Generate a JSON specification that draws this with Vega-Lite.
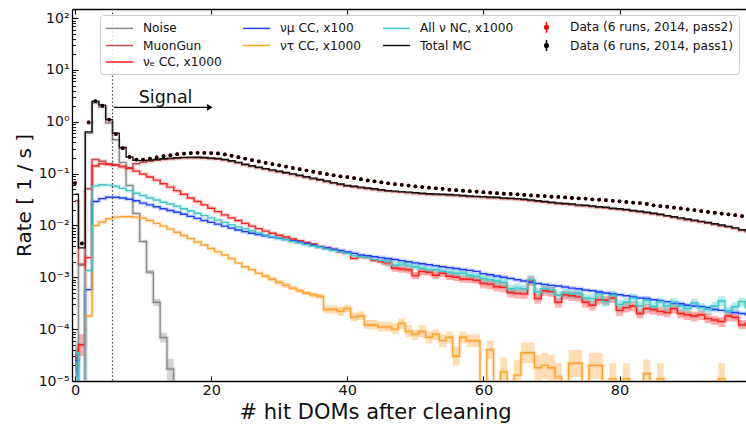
{
  "$schema": "https://vega.github.io/schema/vega-lite/v6.json",
  "width": 674,
  "height": 372,
  "autosize": {"type": "none"},
  "padding": {"left": 72, "top": 9, "right": 0, "bottom": 47},
  "background": "white",
  "config": {
    "view": {"stroke": null},
    "font": "DejaVu Sans",
    "axis": {
      "grid": false,
      "domainColor": "#000000",
      "domainWidth": 1.3,
      "tickColor": "#000000",
      "tickWidth": 1.1,
      "labelFont": "DejaVu Sans",
      "labelFontSize": 14,
      "labelColor": "#111111",
      "titleFont": "DejaVu Sans",
      "titleFontWeight": "normal",
      "titleColor": "#111111"
    }
  },
  "datasets": {
    "hist": [
      {"bin":0,"noise":2e-5,"muongun":0.03,"nue":2.8e-5,"numu":2.5e-5,"nutau":1e-7,"nc":3.5e-5,"total":0.04,"pass1":0.066,"pass2":0.066},
      {"bin":1,"noise":0.0017,"muongun":0.0018,"nue":5e-5,"numu":1e-7,"nutau":1e-7,"nc":1e-7,"total":0.0037,"pass1":0.0045,"pass2":0.0045},
      {"bin":2,"noise":0.6,"muongun":0.051,"nue":0.0024,"numu":0.00058,"nutau":0.00018,"nc":0.00135,"total":0.64,"pass1":0.97,"pass2":0.97},
      {"bin":3,"noise":2.3,"muongun":0.187,"nue":0.14,"numu":0.029,"nutau":0.01,"nc":0.058,"total":2.5,"pass1":2.5,"pass2":2.5},
      {"bin":4,"noise":1.9,"muongun":0.174,"nue":0.155,"numu":0.033,"nutau":0.0117,"nc":0.061,"total":2.1,"pass1":2.05,"pass2":2.05},
      {"bin":5,"noise":0.95,"muongun":0.155,"nue":0.15,"numu":0.035,"nutau":0.0135,"nc":0.06,"total":1.1,"pass1":1.1,"pass2":1.1},
      {"bin":6,"noise":0.45,"muongun":0.147,"nue":0.145,"numu":0.035,"nutau":0.0145,"nc":0.057,"total":0.6,"pass1":0.58,"pass2":0.58},
      {"bin":7,"noise":0.165,"muongun":0.135,"nue":0.138,"numu":0.034,"nutau":0.0147,"nc":0.052,"total":0.32,"pass1":0.31,"pass2":0.31},
      {"bin":8,"noise":0.059,"muongun":0.13,"nue":0.125,"numu":0.032,"nutau":0.0147,"nc":0.047,"total":0.21,"pass1":0.21,"pass2":0.21},
      {"bin":9,"noise":0.017,"muongun":0.155,"nue":0.112,"numu":0.03,"nutau":0.0145,"nc":0.042,"total":0.18,"pass1":0.187,"pass2":0.187},
      {"bin":10,"noise":0.0049,"muongun":0.165,"nue":0.098,"numu":0.027,"nutau":0.0138,"nc":0.038,"total":0.178,"pass1":0.187,"pass2":0.187},
      {"bin":11,"noise":0.00126,"muongun":0.174,"nue":0.086,"numu":0.025,"nutau":0.0125,"nc":0.034,"total":0.182,"pass1":0.195,"pass2":0.195},
      {"bin":12,"noise":0.00033,"muongun":0.18,"nue":0.075,"numu":0.023,"nutau":0.011,"nc":0.031,"total":0.188,"pass1":0.205,"pass2":0.205},
      {"bin":13,"noise":6.9e-5,"muongun":0.187,"nue":0.064,"numu":0.021,"nutau":0.0097,"nc":0.028,"total":0.194,"pass1":0.217,"pass2":0.217},
      {"bin":14,"noise":1.7e-5,"muongun":0.192,"nue":0.055,"numu":0.0195,"nutau":0.0085,"nc":0.026,"total":0.199,"pass1":0.227,"pass2":0.227},
      {"bin":15,"noise":1e-7,"muongun":0.196,"nue":0.047,"numu":0.018,"nutau":0.0074,"nc":0.0235,"total":0.203,"pass1":0.237,"pass2":0.237},
      {"bin":16,"muongun":0.199,"nue":0.04,"numu":0.0165,"nutau":0.0064,"nc":0.021,"total":0.206,"pass1":0.244,"pass2":0.244},
      {"bin":17,"muongun":0.201,"nue":0.034,"numu":0.015,"nutau":0.0056,"nc":0.019,"total":0.208,"pass1":0.249,"pass2":0.249},
      {"bin":18,"muongun":0.2,"nue":0.029,"numu":0.0137,"nutau":0.0048,"nc":0.0172,"total":0.207,"pass1":0.252,"pass2":0.252},
      {"bin":19,"muongun":0.198,"nue":0.025,"numu":0.0125,"nutau":0.0042,"nc":0.0155,"total":0.205,"pass1":0.252,"pass2":0.252},
      {"bin":20,"muongun":0.194,"nue":0.0215,"numu":0.0115,"nutau":0.0036,"nc":0.014,"total":0.201,"pass1":0.25,"pass2":0.25},
      {"bin":21,"muongun":0.189,"nue":0.0185,"numu":0.0106,"nutau":0.0031,"nc":0.0127,"total":0.196,"pass1":0.245,"pass2":0.245},
      {"bin":22,"muongun":0.182,"nue":0.016,"numu":0.0097,"nutau":0.0027,"nc":0.0115,"total":0.188,"pass1":0.235,"pass2":0.235},
      {"bin":23,"muongun":0.171,"nue":0.014,"numu":0.0089,"nutau":0.0023,"nc":0.0104,"total":0.177,"pass1":0.222,"pass2":0.222},
      {"bin":24,"muongun":0.16,"nue":0.0125,"numu":0.0082,"nutau":0.0019,"nc":0.0094,"total":0.165,"pass1":0.208,"pass2":0.208},
      {"bin":25,"muongun":0.147,"nue":0.011,"numu":0.0076,"nutau":0.0016,"nc":0.0086,"total":0.152,"pass1":0.195,"pass2":0.195},
      {"bin":26,"muongun":0.137,"nue":0.0097,"numu":0.0071,"nutau":0.0014,"nc":0.0079,"total":0.142,"pass1":0.183,"pass2":0.183},
      {"bin":27,"muongun":0.129,"nue":0.0087,"numu":0.0067,"nutau":0.0012,"nc":0.0072,"total":0.133,"pass1":0.172,"pass2":0.172},
      {"bin":28,"muongun":0.121,"nue":0.0078,"numu":0.0063,"nutau":0.00105,"nc":0.0066,"total":0.125,"pass1":0.162,"pass2":0.162},
      {"bin":29,"muongun":0.114,"nue":0.0071,"numu":0.006,"nutau":0.00092,"nc":0.0061,"total":0.118,"pass1":0.153,"pass2":0.153},
      {"bin":30,"muongun":0.107,"nue":0.0065,"numu":0.0057,"nutau":0.0008,"nc":0.0057,"total":0.111,"pass1":0.145,"pass2":0.145},
      {"bin":31,"muongun":0.101,"nue":0.006,"numu":0.0054,"nutau":0.0007,"nc":0.0053,"total":0.105,"pass1":0.137,"pass2":0.137},
      {"bin":32,"muongun":0.096,"nue":0.0055,"numu":0.0051,"nutau":0.00062,"nc":0.0049,"total":0.099,"pass1":0.129,"pass2":0.129},
      {"bin":33,"muongun":0.09,"nue":0.0051,"numu":0.0048,"nutau":0.00055,"nc":0.0046,"total":0.093,"pass1":0.122,"pass2":0.122},
      {"bin":34,"muongun":0.084,"nue":0.0047,"numu":0.0045,"nutau":0.0005,"nc":0.0043,"total":0.087,"pass1":0.115,"pass2":0.115},
      {"bin":35,"muongun":0.079,"nue":0.0044,"numu":0.0042,"nutau":0.00046,"nc":0.004,"total":0.082,"pass1":0.109,"pass2":0.109},
      {"bin":36,"muongun":0.074,"nue":0.0039,"numu":0.0039,"nutau":0.00043,"nc":0.0038,"total":0.077,"pass1":0.103,"pass2":0.103},
      {"bin":37,"muongun":0.07,"nue":0.0037,"numu":0.0037,"nutau":0.00024,"nc":0.0035,"total":0.072,"pass1":0.098,"pass2":0.098},
      {"bin":38,"muongun":0.065,"nue":0.0034,"numu":0.0035,"nutau":0.00024,"nc":0.0033,"total":0.067,"pass1":0.093,"pass2":0.093},
      {"bin":39,"muongun":0.061,"nue":0.0031,"numu":0.0033,"nutau":0.00022,"nc":0.0031,"total":0.063,"pass1":0.089,"pass2":0.089},
      {"bin":40,"muongun":0.057,"nue":0.0029,"numu":0.0031,"nutau":0.00025,"nc":0.0029,"total":0.059,"pass1":0.086,"pass2":0.086},
      {"bin":41,"muongun":0.055,"nue":0.0023,"numu":0.0029,"nutau":0.00017,"nc":0.0026,"total":0.057,"pass1":0.082,"pass2":0.082},
      {"bin":42,"muongun":0.053,"nue":0.0025,"numu":0.0027,"nutau":0.00018,"nc":0.0025,"total":0.055,"pass1":0.078,"pass2":0.078},
      {"bin":43,"muongun":0.051,"nue":0.0024,"numu":0.0026,"nutau":0.00012,"nc":0.0024,"total":0.053,"pass1":0.074,"pass2":0.074},
      {"bin":44,"muongun":0.049,"nue":0.0021,"numu":0.0025,"nutau":0.00012,"nc":0.0022,"total":0.051,"pass1":0.071,"pass2":0.071},
      {"bin":45,"muongun":0.047,"nue":0.002,"numu":0.0024,"nutau":0.00011,"nc":0.0021,"total":0.049,"pass1":0.068,"pass2":0.068},
      {"bin":46,"muongun":0.0455,"nue":0.0019,"numu":0.0023,"nutau":0.00011,"nc":0.002,"total":0.047,"pass1":0.065,"pass2":0.065},
      {"bin":47,"muongun":0.0445,"nue":0.0015,"numu":0.0022,"nutau":0.0001,"nc":0.0017,"total":0.046,"pass1":0.063,"pass2":0.063},
      {"bin":48,"muongun":0.0435,"nue":0.00145,"numu":0.0021,"nutau":0.00013,"nc":0.0018,"total":0.045,"pass1":0.061,"pass2":0.061},
      {"bin":49,"muongun":0.0425,"nue":0.0014,"numu":0.002,"nutau":0.00009,"nc":0.0017,"total":0.044,"pass1":0.059,"pass2":0.059},
      {"bin":50,"muongun":0.0415,"nue":0.00108,"numu":0.0019,"nutau":0.00008,"nc":0.0016,"total":0.043,"pass1":0.057,"pass2":0.057},
      {"bin":51,"muongun":0.0405,"nue":0.0013,"numu":0.00183,"nutau":0.00009,"nc":0.0015,"total":0.042,"pass1":0.055,"pass2":0.055},
      {"bin":52,"muongun":0.0395,"nue":0.00125,"numu":0.00175,"nutau":0.00007,"nc":0.0014,"total":0.041,"pass1":0.054,"pass2":0.054},
      {"bin":53,"muongun":0.039,"nue":0.0011,"numu":0.00168,"nutau":0.00008,"nc":0.0014,"total":0.0405,"pass1":0.052,"pass2":0.052},
      {"bin":54,"muongun":0.0385,"nue":0.0012,"numu":0.0016,"nutau":0.00006,"nc":0.0013,"total":0.04,"pass1":0.051,"pass2":0.051},
      {"bin":55,"muongun":0.038,"nue":0.00105,"numu":0.00154,"nutau":0.00007,"nc":0.00125,"total":0.0395,"pass1":0.049,"pass2":0.049},
      {"bin":56,"muongun":0.0375,"nue":0.001,"numu":0.00148,"nutau":0.00003,"nc":0.0012,"total":0.039,"pass1":0.048,"pass2":0.048},
      {"bin":57,"muongun":0.0365,"nue":0.00093,"numu":0.00142,"nutau":0.00007,"nc":0.0012,"total":0.038,"pass1":0.047,"pass2":0.047},
      {"bin":58,"muongun":0.0357,"nue":0.00092,"numu":0.00136,"nutau":0.00006,"nc":0.0011,"total":0.037,"pass1":0.046,"pass2":0.046},
      {"bin":59,"muongun":0.0352,"nue":0.00088,"numu":0.0013,"nutau":0.00006,"nc":0.00105,"total":0.0365,"pass1":0.045,"pass2":0.045},
      {"bin":60,"muongun":0.0347,"nue":0.00076,"numu":0.00118,"nutau":1e-7,"nc":0.00095,"total":0.036,"pass1":0.044,"pass2":0.044},
      {"bin":61,"muongun":0.034,"nue":0.00074,"numu":0.00112,"nutau":0.00004,"nc":0.0009,"total":0.0355,"pass1":0.043,"pass2":0.043},
      {"bin":62,"muongun":0.0337,"nue":0.00066,"numu":0.00106,"nutau":1e-7,"nc":0.00085,"total":0.035,"pass1":0.042,"pass2":0.042},
      {"bin":63,"muongun":0.0328,"nue":0.00064,"numu":0.001,"nutau":0.000015,"nc":0.0008,"total":0.034,"pass1":0.041,"pass2":0.041},
      {"bin":64,"muongun":0.0323,"nue":0.00051,"numu":0.00095,"nutau":1e-7,"nc":0.0006,"total":0.0335,"pass1":0.0405,"pass2":0.0405},
      {"bin":65,"muongun":0.0318,"nue":0.00049,"numu":0.0009,"nutau":0.000013,"nc":0.00062,"total":0.033,"pass1":0.04,"pass2":0.04},
      {"bin":66,"muongun":0.0309,"nue":0.00048,"numu":0.00085,"nutau":0.000035,"nc":0.0006,"total":0.032,"pass1":0.039,"pass2":0.039},
      {"bin":67,"muongun":0.0299,"nue":0.00086,"numu":0.0008,"nutau":0.000035,"nc":0.0009,"total":0.031,"pass1":0.038,"pass2":0.038},
      {"bin":68,"muongun":0.029,"nue":0.00039,"numu":0.00076,"nutau":0.000018,"nc":0.00052,"total":0.03,"pass1":0.0375,"pass2":0.0375},
      {"bin":69,"muongun":0.028,"nue":0.00055,"numu":0.00073,"nutau":0.00002,"nc":0.0006,"total":0.029,"pass1":0.037,"pass2":0.037},
      {"bin":70,"muongun":0.027,"nue":0.00053,"numu":0.0007,"nutau":0.000018,"nc":0.00058,"total":0.028,"pass1":0.036,"pass2":0.036},
      {"bin":71,"muongun":0.0262,"nue":0.00033,"numu":0.00068,"nutau":0.000012,"nc":0.00045,"total":0.0272,"pass1":0.0355,"pass2":0.0355},
      {"bin":72,"muongun":0.0256,"nue":0.00046,"numu":0.00065,"nutau":1e-7,"nc":0.0005,"total":0.0265,"pass1":0.035,"pass2":0.035},
      {"bin":73,"muongun":0.0251,"nue":0.00044,"numu":0.00062,"nutau":0.000022,"nc":0.00048,"total":0.026,"pass1":0.034,"pass2":0.034},
      {"bin":74,"muongun":0.0241,"nue":0.00042,"numu":0.0006,"nutau":0.000022,"nc":0.0005,"total":0.025,"pass1":0.0335,"pass2":0.0335},
      {"bin":75,"muongun":0.0236,"nue":0.00033,"numu":0.00057,"nutau":1e-7,"nc":0.0004,"total":0.0245,"pass1":0.033,"pass2":0.033},
      {"bin":76,"muongun":0.023,"nue":0.00029,"numu":0.00055,"nutau":0.00002,"nc":0.00039,"total":0.0238,"pass1":0.032,"pass2":0.032},
      {"bin":77,"muongun":0.0222,"nue":0.00037,"numu":0.00052,"nutau":0.00002,"nc":0.00048,"total":0.023,"pass1":0.0315,"pass2":0.0315},
      {"bin":78,"muongun":0.0217,"nue":0.00036,"numu":0.0005,"nutau":1e-7,"nc":0.00034,"total":0.0225,"pass1":0.031,"pass2":0.031},
      {"bin":79,"muongun":0.0207,"nue":0.0004,"numu":0.00048,"nutau":0.000011,"nc":0.00045,"total":0.0215,"pass1":0.03,"pass2":0.03},
      {"bin":80,"muongun":0.0203,"nue":0.00023,"numu":0.00046,"nutau":1e-7,"nc":0.0003,"total":0.021,"pass1":0.0293,"pass2":0.0293},
      {"bin":81,"muongun":0.0196,"nue":0.00026,"numu":0.00044,"nutau":0.000011,"nc":0.00033,"total":0.0203,"pass1":0.0285,"pass2":0.0285},
      {"bin":82,"muongun":0.0188,"nue":0.00028,"numu":0.00042,"nutau":1e-7,"nc":0.0004,"total":0.0195,"pass1":0.0277,"pass2":0.0277},
      {"bin":83,"muongun":0.0181,"nue":0.0002,"numu":0.0004,"nutau":1e-7,"nc":0.00028,"total":0.0188,"pass1":0.027,"pass2":0.027},
      {"bin":84,"muongun":0.0174,"nue":0.00025,"numu":0.00039,"nutau":0.000014,"nc":0.00036,"total":0.018,"pass1":0.026,"pass2":0.026},
      {"bin":85,"muongun":0.0166,"nue":0.00024,"numu":0.00037,"nutau":1e-7,"nc":0.00027,"total":0.0172,"pass1":0.0245,"pass2":0.0245},
      {"bin":86,"muongun":0.0159,"nue":0.00022,"numu":0.00035,"nutau":0.000011,"nc":0.00034,"total":0.0165,"pass1":0.0237,"pass2":0.0237},
      {"bin":87,"muongun":0.015,"nue":0.00021,"numu":0.00034,"nutau":1e-7,"nc":0.00028,"total":0.0155,"pass1":0.023,"pass2":0.023},
      {"bin":88,"muongun":0.0142,"nue":0.00025,"numu":0.00032,"nutau":1e-7,"nc":0.00033,"total":0.0147,"pass1":0.0222,"pass2":0.0222},
      {"bin":89,"muongun":0.0135,"nue":0.0002,"numu":0.00031,"nutau":1e-7,"nc":0.00028,"total":0.014,"pass1":0.0213,"pass2":0.0213},
      {"bin":90,"muongun":0.0128,"nue":0.00019,"numu":0.00029,"nutau":1e-7,"nc":0.00025,"total":0.0133,"pass1":0.0205,"pass2":0.0205},
      {"bin":91,"muongun":0.0122,"nue":0.00018,"numu":0.00028,"nutau":1e-7,"nc":0.00032,"total":0.0127,"pass1":0.0198,"pass2":0.0198},
      {"bin":92,"muongun":0.0116,"nue":0.00019,"numu":0.00027,"nutau":1e-7,"nc":0.00026,"total":0.012,"pass1":0.019,"pass2":0.019},
      {"bin":93,"muongun":0.011,"nue":0.00016,"numu":0.00026,"nutau":1e-7,"nc":0.00024,"total":0.0114,"pass1":0.0183,"pass2":0.0183},
      {"bin":94,"muongun":0.0104,"nue":0.00015,"numu":0.00024,"nutau":1e-7,"nc":0.00028,"total":0.0108,"pass1":0.0177,"pass2":0.0177},
      {"bin":95,"muongun":0.0098,"nue":0.00014,"numu":0.00023,"nutau":0.000011,"nc":0.00035,"total":0.0102,"pass1":0.017,"pass2":0.017},
      {"bin":96,"muongun":0.0093,"nue":0.00018,"numu":0.00022,"nutau":1e-7,"nc":0.00022,"total":0.0096,"pass1":0.0164,"pass2":0.0164},
      {"bin":97,"muongun":0.0087,"nue":0.00017,"numu":0.00021,"nutau":1e-7,"nc":0.00027,"total":0.009,"pass1":0.0158,"pass2":0.0158},
      {"bin":98,"muongun":0.008,"nue":0.00012,"numu":0.0002,"nutau":1e-7,"nc":0.00034,"total":0.0083,"pass1":0.0152,"pass2":0.0152},
      {"bin":99,"muongun":0.0076,"nue":0.00013,"numu":0.00019,"nutau":1e-7,"nc":0.00026,"total":0.0079,"pass1":0.0147,"pass2":0.0147}
    ],
    "bands": [
      {"bin":0,"series":"noise","seg":"a","lo":1e-5,"hi":4e-5},
      {"bin":1,"series":"noise","seg":"a","lo":0.0016,"hi":0.0018},
      {"bin":0,"series":"nue","seg":"a","lo":1.5e-5,"hi":4.5e-5},
      {"bin":1,"series":"nue","seg":"a","lo":3e-5,"hi":8e-5},
      {"bin":2,"series":"nue","seg":"a","lo":0.0023,"hi":0.0025},
      {"bin":0,"series":"numu","seg":"a","lo":1.2e-5,"hi":4e-5},
      {"bin":1,"series":"numu","seg":"a","lo":1e-7,"hi":1e-7},
      {"bin":0,"series":"nc","seg":"a","lo":1.5e-5,"hi":6e-5},
      {"bin":1,"series":"nc","seg":"a","lo":1e-7,"hi":1e-7},
      {"bin":10,"series":"noise","seg":"b","lo":0.0046,"hi":0.0052},
      {"bin":11,"series":"noise","seg":"b","lo":0.00115,"hi":0.0014},
      {"bin":12,"series":"noise","seg":"b","lo":0.00028,"hi":0.00038},
      {"bin":13,"series":"noise","seg":"b","lo":5.5e-5,"hi":8.5e-5},
      {"bin":14,"series":"noise","seg":"b","lo":1e-5,"hi":2.7e-5},
      {"bin":15,"series":"noise","seg":"b","lo":1e-7,"hi":1e-7},
      {"bin":45,"series":"nue","seg":"b","lo":0.0017,"hi":0.00234},
      {"bin":46,"series":"nue","seg":"b","lo":0.00162,"hi":0.00222},
      {"bin":47,"series":"nue","seg":"b","lo":0.00128,"hi":0.00176},
      {"bin":48,"series":"nue","seg":"b","lo":0.00123,"hi":0.0017},
      {"bin":49,"series":"nue","seg":"b","lo":0.00119,"hi":0.00164},
      {"bin":50,"series":"nue","seg":"b","lo":0.00092,"hi":0.00126},
      {"bin":51,"series":"nue","seg":"b","lo":0.0011,"hi":0.00152},
      {"bin":52,"series":"nue","seg":"b","lo":0.00106,"hi":0.00146},
      {"bin":53,"series":"nue","seg":"b","lo":0.00094,"hi":0.00129},
      {"bin":54,"series":"nue","seg":"b","lo":0.00102,"hi":0.0014},
      {"bin":55,"series":"nue","seg":"b","lo":0.00089,"hi":0.00123},
      {"bin":56,"series":"nue","seg":"b","lo":0.00085,"hi":0.00117},
      {"bin":57,"series":"nue","seg":"b","lo":0.00079,"hi":0.00109},
      {"bin":58,"series":"nue","seg":"b","lo":0.00078,"hi":0.00108},
      {"bin":59,"series":"nue","seg":"b","lo":0.00075,"hi":0.00103},
      {"bin":60,"series":"nue","seg":"b","lo":0.00061,"hi":0.00093},
      {"bin":61,"series":"nue","seg":"b","lo":0.00059,"hi":0.0009},
      {"bin":62,"series":"nue","seg":"b","lo":0.00053,"hi":0.00081},
      {"bin":63,"series":"nue","seg":"b","lo":0.00051,"hi":0.00078},
      {"bin":64,"series":"nue","seg":"b","lo":0.00041,"hi":0.00062},
      {"bin":65,"series":"nue","seg":"b","lo":0.00039,"hi":0.0006},
      {"bin":66,"series":"nue","seg":"b","lo":0.00038,"hi":0.00059},
      {"bin":67,"series":"nue","seg":"b","lo":0.00069,"hi":0.00105},
      {"bin":68,"series":"nue","seg":"b","lo":0.00031,"hi":0.00048},
      {"bin":69,"series":"nue","seg":"b","lo":0.00044,"hi":0.00067},
      {"bin":70,"series":"nue","seg":"b","lo":0.00042,"hi":0.00065},
      {"bin":71,"series":"nue","seg":"b","lo":0.00026,"hi":0.0004},
      {"bin":72,"series":"nue","seg":"b","lo":0.00037,"hi":0.00056},
      {"bin":73,"series":"nue","seg":"b","lo":0.00035,"hi":0.00054},
      {"bin":74,"series":"nue","seg":"b","lo":0.00034,"hi":0.00051},
      {"bin":75,"series":"nue","seg":"b","lo":0.00026,"hi":0.0004},
      {"bin":76,"series":"nue","seg":"b","lo":0.00023,"hi":0.00035},
      {"bin":77,"series":"nue","seg":"b","lo":0.0003,"hi":0.00045},
      {"bin":78,"series":"nue","seg":"b","lo":0.00029,"hi":0.00044},
      {"bin":79,"series":"nue","seg":"b","lo":0.00032,"hi":0.00049},
      {"bin":80,"series":"nue","seg":"b","lo":0.00018,"hi":0.00028},
      {"bin":81,"series":"nue","seg":"b","lo":0.00021,"hi":0.00032},
      {"bin":82,"series":"nue","seg":"b","lo":0.00022,"hi":0.00034},
      {"bin":83,"series":"nue","seg":"b","lo":0.00016,"hi":0.00024},
      {"bin":84,"series":"nue","seg":"b","lo":0.0002,"hi":0.00031},
      {"bin":85,"series":"nue","seg":"b","lo":0.00019,"hi":0.00029},
      {"bin":86,"series":"nue","seg":"b","lo":0.00018,"hi":0.00027},
      {"bin":87,"series":"nue","seg":"b","lo":0.00017,"hi":0.00026},
      {"bin":88,"series":"nue","seg":"b","lo":0.0002,"hi":0.00031},
      {"bin":89,"series":"nue","seg":"b","lo":0.00016,"hi":0.00024},
      {"bin":90,"series":"nue","seg":"b","lo":0.00015,"hi":0.00023},
      {"bin":91,"series":"nue","seg":"b","lo":0.00014,"hi":0.00022},
      {"bin":92,"series":"nue","seg":"b","lo":0.00015,"hi":0.00023},
      {"bin":93,"series":"nue","seg":"b","lo":0.00013,"hi":0.0002},
      {"bin":94,"series":"nue","seg":"b","lo":0.00012,"hi":0.00018},
      {"bin":95,"series":"nue","seg":"b","lo":0.00011,"hi":0.00017},
      {"bin":96,"series":"nue","seg":"b","lo":0.00014,"hi":0.00022},
      {"bin":97,"series":"nue","seg":"b","lo":0.00014,"hi":0.00021},
      {"bin":98,"series":"nue","seg":"b","lo":0.0001,"hi":0.00015},
      {"bin":99,"series":"nue","seg":"b","lo":0.0001,"hi":0.00016},
      {"bin":45,"series":"nc","seg":"b","lo":0.00179,"hi":0.00246},
      {"bin":46,"series":"nc","seg":"b","lo":0.0017,"hi":0.00234},
      {"bin":47,"series":"nc","seg":"b","lo":0.00145,"hi":0.00199},
      {"bin":48,"series":"nc","seg":"b","lo":0.00153,"hi":0.00211},
      {"bin":49,"series":"nc","seg":"b","lo":0.00145,"hi":0.00199},
      {"bin":50,"series":"nc","seg":"b","lo":0.00136,"hi":0.00187},
      {"bin":51,"series":"nc","seg":"b","lo":0.00128,"hi":0.00176},
      {"bin":52,"series":"nc","seg":"b","lo":0.00119,"hi":0.00164},
      {"bin":53,"series":"nc","seg":"b","lo":0.00119,"hi":0.00164},
      {"bin":54,"series":"nc","seg":"b","lo":0.0011,"hi":0.00152},
      {"bin":55,"series":"nc","seg":"b","lo":0.00106,"hi":0.00146},
      {"bin":56,"series":"nc","seg":"b","lo":0.00102,"hi":0.0014},
      {"bin":57,"series":"nc","seg":"b","lo":0.00102,"hi":0.0014},
      {"bin":58,"series":"nc","seg":"b","lo":0.00094,"hi":0.00129},
      {"bin":59,"series":"nc","seg":"b","lo":0.00089,"hi":0.00123},
      {"bin":60,"series":"nc","seg":"b","lo":0.00076,"hi":0.00116},
      {"bin":61,"series":"nc","seg":"b","lo":0.00072,"hi":0.0011},
      {"bin":62,"series":"nc","seg":"b","lo":0.00068,"hi":0.00104},
      {"bin":63,"series":"nc","seg":"b","lo":0.00064,"hi":0.00098},
      {"bin":64,"series":"nc","seg":"b","lo":0.00048,"hi":0.00073},
      {"bin":65,"series":"nc","seg":"b","lo":0.0005,"hi":0.00076},
      {"bin":66,"series":"nc","seg":"b","lo":0.00048,"hi":0.00073},
      {"bin":67,"series":"nc","seg":"b","lo":0.00072,"hi":0.0011},
      {"bin":68,"series":"nc","seg":"b","lo":0.00042,"hi":0.00063},
      {"bin":69,"series":"nc","seg":"b","lo":0.00048,"hi":0.00073},
      {"bin":70,"series":"nc","seg":"b","lo":0.00046,"hi":0.00071},
      {"bin":71,"series":"nc","seg":"b","lo":0.00036,"hi":0.00055},
      {"bin":72,"series":"nc","seg":"b","lo":0.0004,"hi":0.00061},
      {"bin":73,"series":"nc","seg":"b","lo":0.00038,"hi":0.00059},
      {"bin":74,"series":"nc","seg":"b","lo":0.0004,"hi":0.00061},
      {"bin":75,"series":"nc","seg":"b","lo":0.00032,"hi":0.00049},
      {"bin":76,"series":"nc","seg":"b","lo":0.00031,"hi":0.00048},
      {"bin":77,"series":"nc","seg":"b","lo":0.00038,"hi":0.00059},
      {"bin":78,"series":"nc","seg":"b","lo":0.00027,"hi":0.00041},
      {"bin":79,"series":"nc","seg":"b","lo":0.00036,"hi":0.00055},
      {"bin":80,"series":"nc","seg":"b","lo":0.00024,"hi":0.00037},
      {"bin":81,"series":"nc","seg":"b","lo":0.00026,"hi":0.0004},
      {"bin":82,"series":"nc","seg":"b","lo":0.00032,"hi":0.00049},
      {"bin":83,"series":"nc","seg":"b","lo":0.00022,"hi":0.00034},
      {"bin":84,"series":"nc","seg":"b","lo":0.00029,"hi":0.00044},
      {"bin":85,"series":"nc","seg":"b","lo":0.00022,"hi":0.00033},
      {"bin":86,"series":"nc","seg":"b","lo":0.00027,"hi":0.00041},
      {"bin":87,"series":"nc","seg":"b","lo":0.00022,"hi":0.00034},
      {"bin":88,"series":"nc","seg":"b","lo":0.00026,"hi":0.0004},
      {"bin":89,"series":"nc","seg":"b","lo":0.00022,"hi":0.00034},
      {"bin":90,"series":"nc","seg":"b","lo":0.0002,"hi":0.00031},
      {"bin":91,"series":"nc","seg":"b","lo":0.00026,"hi":0.00039},
      {"bin":92,"series":"nc","seg":"b","lo":0.00021,"hi":0.00032},
      {"bin":93,"series":"nc","seg":"b","lo":0.00019,"hi":0.00029},
      {"bin":94,"series":"nc","seg":"b","lo":0.00022,"hi":0.00034},
      {"bin":95,"series":"nc","seg":"b","lo":0.00028,"hi":0.00043},
      {"bin":96,"series":"nc","seg":"b","lo":0.00018,"hi":0.00027},
      {"bin":97,"series":"nc","seg":"b","lo":0.00022,"hi":0.00033},
      {"bin":98,"series":"nc","seg":"b","lo":0.00027,"hi":0.00041},
      {"bin":99,"series":"nc","seg":"b","lo":0.00021,"hi":0.00032},
      {"bin":28,"series":"nutau","seg":"b","lo":0.00095,"hi":0.00116},
      {"bin":29,"series":"nutau","seg":"b","lo":0.00083,"hi":0.00101},
      {"bin":30,"series":"nutau","seg":"b","lo":0.00072,"hi":0.00088},
      {"bin":31,"series":"nutau","seg":"b","lo":0.00063,"hi":0.00077},
      {"bin":32,"series":"nutau","seg":"b","lo":0.00056,"hi":0.00068},
      {"bin":33,"series":"nutau","seg":"b","lo":0.0005,"hi":0.00061},
      {"bin":34,"series":"nutau","seg":"b","lo":0.00045,"hi":0.00055},
      {"bin":35,"series":"nutau","seg":"b","lo":0.00041,"hi":0.00051},
      {"bin":36,"series":"nutau","seg":"b","lo":0.00038,"hi":0.00048},
      {"bin":37,"series":"nutau","seg":"b","lo":0.0002,"hi":0.00029},
      {"bin":38,"series":"nutau","seg":"b","lo":0.0002,"hi":0.00029},
      {"bin":39,"series":"nutau","seg":"b","lo":0.00018,"hi":0.00027},
      {"bin":40,"series":"nutau","seg":"b","lo":0.00021,"hi":0.0003},
      {"bin":41,"series":"nutau","seg":"b","lo":0.00014,"hi":0.00021},
      {"bin":42,"series":"nutau","seg":"b","lo":0.00015,"hi":0.00022},
      {"bin":43,"series":"nutau","seg":"b","lo":0.0001,"hi":0.00015},
      {"bin":44,"series":"nutau","seg":"b","lo":0.0001,"hi":0.00015},
      {"bin":45,"series":"nutau","seg":"b","lo":0.00009,"hi":0.00014},
      {"bin":46,"series":"nutau","seg":"b","lo":0.00009,"hi":0.00014},
      {"bin":47,"series":"nutau","seg":"b","lo":0.00008,"hi":0.00013},
      {"bin":48,"series":"nutau","seg":"b","lo":0.0001,"hi":0.00016},
      {"bin":49,"series":"nutau","seg":"b","lo":0.00007,"hi":0.00012},
      {"bin":50,"series":"nutau","seg":"b","lo":0.000062,"hi":0.0001},
      {"bin":51,"series":"nutau","seg":"b","lo":0.00007,"hi":0.00012},
      {"bin":52,"series":"nutau","seg":"b","lo":0.000053,"hi":0.00009},
      {"bin":53,"series":"nutau","seg":"b","lo":0.000062,"hi":0.0001},
      {"bin":54,"series":"nutau","seg":"b","lo":0.000045,"hi":0.00008},
      {"bin":55,"series":"nutau","seg":"b","lo":0.000053,"hi":0.00009},
      {"bin":56,"series":"nutau","seg":"b","lo":0.00002,"hi":0.000045},
      {"bin":57,"series":"nutau","seg":"b","lo":0.000053,"hi":0.00009},
      {"bin":58,"series":"nutau","seg":"b","lo":0.000045,"hi":0.00008},
      {"bin":59,"series":"nutau","seg":"b","lo":0.000045,"hi":0.00008},
      {"bin":60,"series":"nutau","seg":"b","lo":1e-7,"hi":1e-7},
      {"bin":61,"series":"nutau","seg":"b","lo":0.000027,"hi":0.00006},
      {"bin":62,"series":"nutau","seg":"b","lo":1e-7,"hi":1e-7},
      {"bin":63,"series":"nutau","seg":"b","lo":0.000008,"hi":0.000028},
      {"bin":64,"series":"nutau","seg":"b","lo":1e-7,"hi":1e-7},
      {"bin":65,"series":"nutau","seg":"b","lo":0.000007,"hi":0.000025},
      {"bin":66,"series":"nutau","seg":"b","lo":0.000022,"hi":0.000055},
      {"bin":67,"series":"nutau","seg":"b","lo":0.000022,"hi":0.000055},
      {"bin":68,"series":"nutau","seg":"b","lo":0.00001,"hi":0.000032},
      {"bin":69,"series":"nutau","seg":"b","lo":0.000011,"hi":0.000035},
      {"bin":70,"series":"nutau","seg":"b","lo":0.00001,"hi":0.000032},
      {"bin":71,"series":"nutau","seg":"b","lo":0.000006,"hi":0.000022},
      {"bin":72,"series":"nutau","seg":"b","lo":1e-7,"hi":1e-7},
      {"bin":73,"series":"nutau","seg":"b","lo":0.000012,"hi":0.00004},
      {"bin":74,"series":"nutau","seg":"b","lo":0.000012,"hi":0.00004},
      {"bin":75,"series":"nutau","seg":"b","lo":1e-7,"hi":1e-7},
      {"bin":76,"series":"nutau","seg":"b","lo":0.000011,"hi":0.000035},
      {"bin":77,"series":"nutau","seg":"b","lo":0.000011,"hi":0.000035},
      {"bin":78,"series":"nutau","seg":"b","lo":1e-7,"hi":1e-7},
      {"bin":79,"series":"nutau","seg":"b","lo":0.000005,"hi":0.000022},
      {"bin":80,"series":"nutau","seg":"b","lo":1e-7,"hi":1e-7},
      {"bin":81,"series":"nutau","seg":"b","lo":0.000005,"hi":0.000022},
      {"bin":82,"series":"nutau","seg":"b","lo":1e-7,"hi":1e-7},
      {"bin":83,"series":"nutau","seg":"b","lo":1e-7,"hi":1e-7},
      {"bin":84,"series":"nutau","seg":"b","lo":0.000007,"hi":0.000026},
      {"bin":85,"series":"nutau","seg":"b","lo":1e-7,"hi":1e-7},
      {"bin":86,"series":"nutau","seg":"b","lo":0.000005,"hi":0.000022},
      {"bin":87,"series":"nutau","seg":"b","lo":1e-7,"hi":1e-7},
      {"bin":94,"series":"nutau","seg":"b","lo":1e-7,"hi":1e-7},
      {"bin":95,"series":"nutau","seg":"b","lo":0.000005,"hi":0.000022},
      {"bin":96,"series":"nutau","seg":"b","lo":1e-7,"hi":1e-7}
    ]
  },
  "layer": [
    {
      "layer": [
        {
          "data": {"name": "bands"},
          "mark": {"type": "area", "interpolate": "step", "opacity": 0.35, "clip": true},
          "encoding": {
            "x": {
              "field": "bin",
              "type": "quantitative",
              "scale": {"domain": [-0.45, 98.58], "nice": false, "zero": false},
              "axis": {
                "orient": "bottom",
                "values": [0, 20, 40, 60, 80],
                "format": "d",
                "tickSize": -5,
                "labelPadding": 7,
                "labelFontSize": 14.5,
                "title": "# hit DOMs after cleaning",
                "titleFontSize": 21,
                "titleX": 303,
                "titleY": 37,
                "titleAlign": "center",
                "titleBaseline": "alphabetic"
              }
            },
            "y": {
              "field": "lo",
              "type": "quantitative",
              "stack": null,
              "scale": {"type": "log", "domain": [1e-5, 150], "nice": false},
              "axis": {
                "orient": "left",
                "values": [1e-5, 0.0001, 0.001, 0.01, 0.1, 1, 10, 100],
                "labelExpr": "datum.value > 50 ? '10²' : datum.value > 5 ? '10¹' : datum.value > 0.5 ? '10⁰' : datum.value > 0.05 ? '10⁻¹' : datum.value > 0.005 ? '10⁻²' : datum.value > 0.0005 ? '10⁻³' : datum.value > 0.00005 ? '10⁻⁴' : '10⁻⁵'",
                "tickSize": -6,
                "labelPadding": 9,
                "title": "Rate [ 1 / s ]",
                "titleFontSize": 20,
                "titleAngle": -90,
                "titleX": -42,
                "titleY": 186,
                "titleAlign": "center",
                "titleBaseline": "alphabetic"
              }
            },
            "y2": {"field": "hi"},
            "detail": {"field": "seg"},
            "fill": {
              "field": "series",
              "type": "nominal",
              "legend": null,
              "scale": {
                "domain": ["pass1", "pass2", "total", "nc", "nutau", "numu", "nue", "muongun", "noise"],
                "range": ["#000000", "#ff0000", "#111111", "#3cc9c6", "#ffa12b", "#1f3fff", "#ff1f1f", "#b85252", "#8a8a8a"]
              }
            }
          }
        },
        {
          "data": {"name": "hist"},
          "transform": [{"fold": ["noise", "muongun", "nue", "numu", "nutau", "nc"], "as": ["series", "rate"]}],
          "mark": {"type": "line", "interpolate": "step", "strokeWidth": 4, "opacity": 0.2, "clip": true},
          "encoding": {
            "x": {"field": "bin", "type": "quantitative"},
            "y": {"field": "rate", "type": "quantitative", "scale": {"type": "log", "domain": [1e-5, 150], "nice": false}},
            "stroke": {
              "field": "series",
              "type": "nominal",
              "legend": null,
              "scale": {
                "domain": ["muongun", "noise", "nue", "numu", "nutau", "nc"],
                "range": ["#b85252", "#8a8a8a", "#ff1f1f", "#1f3fff", "#ffa12b", "#3cc9c6"]
              }
            }
          }
        },
        {
          "data": {"name": "hist"},
          "transform": [{"fold": ["noise", "muongun", "nue", "numu", "nutau", "nc", "total"], "as": ["series", "rate"]}],
          "mark": {"type": "line", "interpolate": "step", "strokeWidth": 1.4, "clip": true},
          "encoding": {
            "x": {"field": "bin", "type": "quantitative"},
            "y": {"field": "rate", "type": "quantitative", "scale": {"type": "log", "domain": [1e-5, 150], "nice": false}},
            "color": {
              "field": "series",
              "type": "nominal",
              "scale": {
                "domain": ["noise", "muongun", "nue", "numu", "nutau", "nc", "total", "pass2", "pass1"],
                "range": ["#8a8a8a", "#b85252", "#ff1f1f", "#1f3fff", "#ffa12b", "#3cc9c6", "#111111", "#ff0000", "#000000"]
              },
              "legend": {
                "title": null,
                "orient": "none",
                "direction": "horizontal",
                "legendX": 28,
                "legendY": 6,
                "columns": 4,
                "columnPadding": 18,
                "rowPadding": 0.5,
                "padding": 5,
                "fillColor": "rgba(255,255,255,0.85)",
                "strokeColor": "#cccccc",
                "cornerRadius": 3,
                "symbolSize": 144,
                "symbolStrokeWidth": 1.5,
                "labelOffset": 24,
                "labelFont": "DejaVu Sans",
                "labelFontSize": 12.2,
                "labelColor": "#111111",
                "labelLimit": 400,
                "values": ["noise", "numu", "nc", "pass2", "muongun", "nutau", "total", "pass1", "nue"],
                "labelExpr": "datum.value == 'noise' ? 'Noise' : datum.value == 'muongun' ? 'MuonGun' : datum.value == 'nue' ? 'νₑ CC, x1000' : datum.value == 'numu' ? 'νμ CC, x100' : datum.value == 'nutau' ? 'ντ CC, x1000' : datum.value == 'nc' ? 'All ν NC, x1000' : datum.value == 'total' ? 'Total MC' : datum.value == 'pass2' ? 'Data (6 runs, 2014, pass2)' : 'Data (6 runs, 2014, pass1)'",
                "encode": {
                  "symbols": {
                    "update": {
                      "shape": {"signal": "datum.value == 'pass1' || datum.value == 'pass2' ? 'M1.25,-0.9L1.25,0.9M0.95,0A0.3,0.3,0,1,1,1.55,0A0.3,0.3,0,1,1,0.95,0Z' : 'M-1,0L3.5,0'"},
                      "fill": {"signal": "datum.value == 'pass2' ? '#ff0000' : datum.value == 'pass1' ? '#000000' : 'transparent'"},
                      "stroke": {"scale": "color", "field": "value"},
                      "strokeWidth": {"value": 1.5},
                      "opacity": {"value": 1}
                    }
                  }
                }
              }
            }
          }
        },
        {
          "data": {"name": "hist"},
          "transform": [{"fold": ["pass2", "pass1"], "as": ["series", "rate"]}],
          "mark": {"type": "point", "filled": true, "size": 14, "opacity": 1, "clip": true},
          "encoding": {
            "x": {"field": "bin", "type": "quantitative"},
            "y": {"field": "rate", "type": "quantitative", "scale": {"type": "log", "domain": [1e-5, 150], "nice": false}},
            "fill": {"field": "series", "type": "nominal", "legend": null}
          }
        },
        {
          "data": {"values": [{"at": 5.5}]},
          "mark": {"type": "rule", "color": "#444444", "strokeWidth": 1.2, "strokeDash": [1.5, 2.2]},
          "encoding": {"x": {"field": "at", "type": "quantitative"}}
        },
        {
          "data": {"values": [{"from": 5.7, "to": 19.6, "level": 1.9}]},
          "mark": {"type": "rule", "color": "#000000", "strokeWidth": 1.3},
          "encoding": {
            "x": {"field": "from", "type": "quantitative"},
            "x2": {"field": "to"},
            "y": {"field": "level", "type": "quantitative", "scale": {"type": "log", "domain": [1e-5, 150], "nice": false}}
          }
        },
        {
          "data": {"values": [{"at": 19.8, "level": 1.9}]},
          "mark": {"type": "point", "shape": "triangle-right", "filled": true, "size": 45, "color": "#000000", "opacity": 1},
          "encoding": {
            "x": {"field": "at", "type": "quantitative"},
            "y": {"field": "level", "type": "quantitative", "scale": {"type": "log", "domain": [1e-5, 150], "nice": false}}
          }
        },
        {
          "data": {"values": [{"label": "Signal", "at": 13.3, "level": 2.35}]},
          "mark": {"type": "text", "font": "DejaVu Sans", "fontSize": 17.5, "align": "center", "baseline": "alphabetic", "color": "#111111"},
          "encoding": {
            "x": {"field": "at", "type": "quantitative"},
            "y": {"field": "level", "type": "quantitative", "scale": {"type": "log", "domain": [1e-5, 150], "nice": false}},
            "text": {"field": "label"}
          }
        }
      ]
    },
    {
      "data": {"values": [{}]},
      "mark": {"type": "point", "opacity": 0},
      "encoding": {
        "x": {
          "datum": 50,
          "type": "quantitative",
          "scale": {"domain": [-0.45, 98.58], "nice": false, "zero": false},
          "axis": {"orient": "top", "values": [0, 20, 40, 60, 80], "labels": false, "tickSize": -5, "title": null}
        },
        "y": {
          "datum": 1,
          "type": "quantitative",
          "scale": {"type": "log", "domain": [1e-5, 150], "nice": false},
          "axis": {
            "orient": "left",
            "domain": false,
            "labels": false,
            "tickSize": -3.5,
            "tickWidth": 0.9,
            "title": null,
            "values": [2e-5, 3e-5, 4e-5, 5e-5, 6e-5, 7e-5, 8e-5, 9e-5, 0.0002, 0.0003, 0.0004, 0.0005, 0.0006, 0.0007, 0.0008, 0.0009, 0.002, 0.003, 0.004, 0.005, 0.006, 0.007, 0.008, 0.009, 0.02, 0.03, 0.04, 0.05, 0.06, 0.07, 0.08, 0.09, 0.2, 0.3, 0.4, 0.5, 0.6, 0.7, 0.8, 0.9, 2, 3, 4, 5, 6, 7, 8, 9, 20, 30, 40, 50, 60, 70, 80, 90]
          }
        }
      }
    }
  ],
  "resolve": {"axis": {"x": "independent", "y": "independent"}}
}
